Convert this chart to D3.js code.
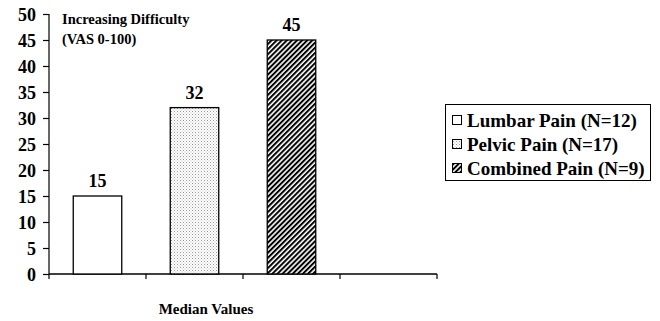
<!DOCTYPE html>
<html><head><meta charset="utf-8">
<script src="https://cdn.jsdelivr.net/npm/d3@7"></script>
<style>body{margin:0;background:#fff}svg{display:block}</style>
</head><body>
<script>
const categories = ["Lumbar Pain", "Pelvic Pain", "Combined Pain", ""];
const values = [15, 32, 45];
const legendLabels = ["Lumbar Pain (N=12)", "Pelvic Pain (N=17)", "Combined Pain (N=9)"];
const yTicks = [0, 5, 10, 15, 20, 25, 30, 35, 40, 45, 50];
const fills = ["#fff", "url(#dots)", "url(#hatch)"];

const FONT = "'Liberation Serif'";
const W = 660, H = 321;
const svg = d3.select("body").append("svg").attr("width", W).attr("height", H);
const defs = svg.append("defs");
const dots = defs.append("pattern").attr("id", "dots").attr("patternUnits", "userSpaceOnUse").attr("width", 3).attr("height", 3);
dots.append("rect").attr("width", 3).attr("height", 3).attr("fill", "#fff");
dots.append("rect").attr("x", 0).attr("y", 0).attr("width", 1).attr("height", 1).attr("fill", "#999");
dots.append("rect").attr("x", 1.5).attr("y", 1.5).attr("width", 1).attr("height", 1).attr("fill", "#bbb");
const hatch = defs.append("pattern").attr("id", "hatch").attr("patternUnits", "userSpaceOnUse").attr("width", 3.6).attr("height", 3.6).attr("patternTransform", "rotate(45)");
hatch.append("rect").attr("width", 3.6).attr("height", 3.6).attr("fill", "#fff");
hatch.append("rect").attr("width", 2).attr("height", 3.6).attr("fill", "#000");

const x = d3.scaleBand().domain(categories).range([49, 437]).paddingInner(0.5).paddingOuter(0.25);
const y = d3.scaleLinear().domain([0, 50]).range([274, 14]);
const step = x.step(), bw = x.bandwidth();

function txt(sel, size) {
  return sel.style("font-family", FONT).style("font-weight", "bold").style("font-size", size + "px").attr("fill", "#000");
}

// y axis
const yAxis = svg.append("g").attr("transform", "translate(49,0)")
  .call(d3.axisLeft(y).tickValues(yTicks).tickSize(6).tickPadding(7).tickFormat(d3.format("d")));
yAxis.attr("font-family", null).attr("font-size", null);
yAxis.select(".domain").remove();
yAxis.selectAll("line").attr("stroke", "#000").attr("stroke-width", 1.2);
txt(yAxis.selectAll("text"), 18).attr("dy", "0.34em");
svg.append("line").attr("x1", 49).attr("x2", 49).attr("y1", y(50)).attr("y2", y(0) + 5).attr("stroke", "#000").attr("stroke-width", 1.2);

// x axis
svg.append("line").attr("x1", 49).attr("x2", 437).attr("y1", y(0)).attr("y2", y(0)).attr("stroke", "#000").attr("stroke-width", 1.5);
categories.forEach(c => {
  const bx = x(c) + bw + (step - bw) / 2;
  svg.append("line").attr("x1", bx).attr("x2", bx).attr("y1", y(0)).attr("y2", y(0) + 5).attr("stroke", "#000").attr("stroke-width", 1.2);
});

// bars
values.forEach((v, i) => {
  svg.append("rect").attr("x", x(categories[i])).attr("y", y(v)).attr("width", bw).attr("height", y(0) - y(v))
    .attr("fill", fills[i]).attr("stroke", "#000").attr("stroke-width", 1.3);
  txt(svg.append("text").attr("x", x(categories[i]) + bw / 2).attr("y", y(v) - 9).attr("text-anchor", "middle"), 18).text(v);
});

// annotation
txt(svg.append("text").attr("x", 62).attr("y", 24), 14.5).text("Increasing Difficulty");
txt(svg.append("text").attr("x", 62).attr("y", 44), 14.5).text("(VAS 0-100)");
txt(svg.append("text").attr("x", 206).attr("y", 314).attr("text-anchor", "middle"), 15).text("Median Values");

// legend
const lg = svg.append("g");
lg.append("rect").attr("x", 445.5).attr("y", 104.5).attr("width", 205).attr("height", 76).attr("fill", "#fff").attr("stroke", "#000").attr("stroke-width", 1);
legendLabels.forEach((t, i) => {
  const cy = 120 + i * 24;
  lg.append("rect").attr("x", 452.5).attr("y", cy - 4.5).attr("width", 9).attr("height", 9).attr("fill", fills[i]).attr("stroke", "#000").attr("stroke-width", 1);
  txt(lg.append("text").attr("x", 467).attr("y", cy + 6.5), 19).text(t);
});
</script>
</body></html>
